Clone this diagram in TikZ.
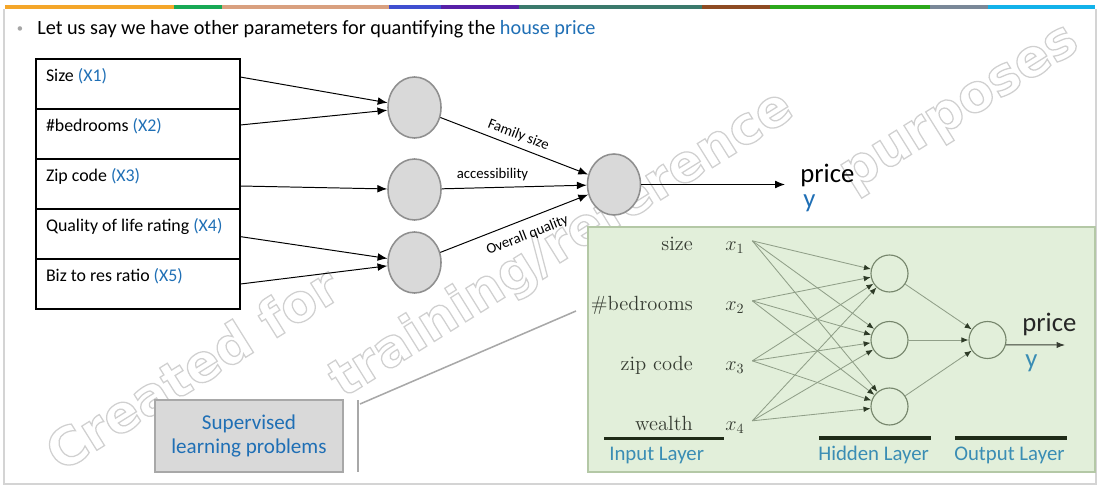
\documentclass[tikz,border=0pt]{standalone}
\usepackage{fontspec}
\setsansfont{Carlito}
\renewcommand{\familydefault}{\sfdefault}
\newfontfamily\wmfont{DejaVu Sans}
\usepackage{tikz}
\usetikzlibrary{arrows.meta,positioning,calc,shapes.geometric}

\definecolor{officeblue}{HTML}{1F6FB5}
\definecolor{layerblue}{HTML}{3A8DB4}
\definecolor{unitfill}{HTML}{D9D9D9}
\definecolor{unitedge}{HTML}{8F8F8F}
\definecolor{panelbg}{HTML}{E2EFDA}
\definecolor{paneledge}{HTML}{B4C8A6}
\definecolor{netline}{HTML}{76866C}
\definecolor{netwire}{HTML}{909F88}
\definecolor{netdark}{HTML}{2D3A26}
\definecolor{ruledark}{HTML}{1F2B17}
\definecolor{callgray}{HTML}{A8A8A8}
\definecolor{framegray}{HTML}{D4D4D4}
\definecolor{textdark}{HTML}{363C32}
\definecolor{wmgray}{HTML}{D0D0D0}
\definecolor{barA}{HTML}{F4A62A}
\definecolor{barB}{HTML}{18A955}
\definecolor{barC}{HTML}{D9A07F}
\definecolor{barD}{HTML}{3F4FD0}
\definecolor{barE}{HTML}{5720A8}
\definecolor{barF}{HTML}{3B7A6C}
\definecolor{barG}{HTML}{8E4B22}
\definecolor{barH}{HTML}{2CA81C}
\definecolor{barI}{HTML}{7A8898}
\definecolor{barJ}{HTML}{12B2EA}

\tikzstyle{row} = [draw=black,line width=0.9pt,outer sep=0pt,inner xsep=0.25cm,inner ysep=0.17cm,
  text width=4.6cm,align=flush left,text height=0.4cm,text depth=0.51cm,font=\fontsize{12.7}{15}\selectfont]
\tikzstyle{unit} = [ellipse,draw=unitedge,fill=unitfill,line width=1.1pt,inner sep=0pt,
  minimum width=1.325cm,minimum height=1.525cm]
\tikzstyle{link} = [draw=black,line width=0.7pt,-{Latex[length=7pt,width=5.5pt]}]
\tikzstyle{edgelbl} = [font=\fontsize{10.5}{12}\selectfont,inner sep=2pt]
\tikzstyle{neuron} = [circle,draw=netline,line width=0.8pt,inner sep=0pt,minimum size=0.925cm]
\tikzstyle{wire} = [draw=netwire,line width=0.6pt,-{Latex[length=5pt,width=4pt,color=netdark]}]
\tikzstyle{feat} = [anchor=base east,inner sep=0pt,text=textdark,font=\rmfamily\fontsize{14.6}{17}\selectfont]
\tikzstyle{inp} = [anchor=base west,inner sep=0pt,text=textdark,font=\fontsize{14}{16}\selectfont]
\tikzstyle{rulebar} = [draw=ruledark,line width=2.8pt]
\tikzstyle{layername} = [anchor=base west,inner sep=0pt,text=layerblue,font=\fontsize{14.8}{17}\selectfont]
\tikzstyle{bigword} = [anchor=base west,inner sep=0pt,font=\fontsize{19}{21}\selectfont]
\tikzstyle{supbox} = [draw=callgray,fill=unitfill,line width=1.1pt,minimum width=4.7cm,minimum height=1.8cm,
  align=center,text=officeblue,font=\fontsize{15}{17.7}\selectfont]
\tikzstyle{wmark} = [text=wmgray,rotate=32,inner sep=0pt,font=\wmfont\bfseries\fontsize{37}{37}\selectfont]
\newcommand{\xid}[1]{\textcolor{officeblue}{#1}}
\newcommand{\hollow}[1]{\special{pdf:literal direct 1 Tr 0.9 w}#1\special{pdf:literal direct 0 Tr}}

\begin{document}
\begin{tikzpicture}[x=0.025cm,y=-0.025cm]
    \useasboundingbox (0,0) rectangle (1100,486);

    \node (wm1) [wmark] at (192,368) {\hollow{Created for}};
    \node (wm2) [wmark] at (562,245) {\hollow{training/reference}};
    \node (wm3) [wmark] at (962,112) {\hollow{purposes}};

    \foreach \a/\b/\c in {5/174/barA,174/222/barB,222/389/barC,389/441/barD,441/519/barE,
      519/702/barF,702/770/barG,770/930/barH,930/988/barI,988/1095/barJ}
      \fill [\c] (\a,5) rectangle (\b,9.5);
    \draw [framegray,line width=1.2pt] (4,9.5) -- (4,484) -- (1096,484) -- (1096,9.5);

    \node [gray!70,inner sep=0pt,font=\small] at (20,30) {\textbullet};
    \node (intro) [anchor=base west,inner sep=0pt,font=\fontsize{14.4}{17}\selectfont] at (37,35)
      {Let us say we have other parameters for quantifying the \xid{house price}};

    \node (r1) [row,anchor=north west] at (36,59) {Size \xid{(X1)}};
    \node (r2) [row,below=0pt of r1] {\#bedrooms \xid{(X2)}};
    \node (r3) [row,below=0pt of r2] {Zip code \xid{(X3)}};
    \node (r4) [row,below=0pt of r3] {Quality of life rating \xid{(X4)}};
    \node (r5) [row,below=0pt of r4] {Biz to res ratio \xid{(X5)}};

    \node (h1) [unit] at (414.5,107.5) {};
    \node (h2) [unit] at (414.5,189.5) {};
    \node (h3) [unit] at (414.5,262.5) {};
    \node (out) [unit] at (614,184.5) {};

    \draw [link] ([yshift=5pt]r1.east) -- (h1);
    \draw [link] ([yshift=6.4pt]r2.east) -- (h1);
    \draw [link] ([yshift=-1.4pt]r3.east) -- (h2);
    \draw [link] ([yshift=-1.8pt]r4.east) -- (h3);
    \draw [link] (r5.east) -- (h3);
    \draw [link] (h1) -- node [edgelbl,above=1.5pt,sloped] {Family size} (out);
    \draw [link] (h2) -- node [edgelbl,above=2.5pt,pos=0.35] {accessibility} (out);
    \draw [link] (h3) -- node [edgelbl,below=4.5pt,sloped,pos=0.55] {Overall quality} (out);

    \coordinate (ptop) at (785,184.5);
    \draw [link] (out) -- (ptop);
    \node (price1) [bigword] at (800,183) {price};
    \node (y1) [bigword,text=officeblue] at (803,207) {y};

    \node (sup) [supbox] at (249,436) {Supervised\\learning problems};
    \draw [callgray,line width=1.5pt] (358,400) -- (358,472);
    \draw [callgray,line width=1.1pt] (360,404) -- (576,311);

    \draw [paneledge,fill=panelbg,line width=1.3pt] (588,227) rectangle (1095,472);

    \foreach \n/\y/\t in {1/250/size,2/310/\#bedrooms,3/370/zip code,4/430/wealth} {
      \node (f\n) [feat] at (693,\y) {\t};
      \node (x\n) [inp] at (725,\y) {$x_\n$};
    }
    \foreach \j/\y in {1/273.5,2/340,3/406.5}
      \node (n\j) [neuron] at (889.5,\y) {};
    \node (o) [neuron] at (987.5,340) {};

    \foreach \i in {1,...,4}
      \foreach \j in {1,2,3}
        \draw [wire] ([shift={(5.5pt,4.5pt)}]x\i.east) -- (n\j);
    \foreach \j in {1,2,3}
      \draw [wire] (n\j) -- (o);
    \coordinate (pend) at (1065,345);
    \draw [textdark,line width=0.7pt,-{Latex[length=6pt,width=4.5pt]}] (o.-15) -- (pend);
    \node (price2) [bigword,text=black!85] at (1022,331) {price};
    \node (y2) [bigword,text=layerblue] at (1025,367) {y};

    \draw [rulebar] (604,438.5) -- (724,438.5);
    \draw [rulebar] (819,438) -- (931,438);
    \draw [rulebar] (955,438) -- (1067,438);
    \node (lin) [layername] at (609,460) {Input Layer};
    \node (lhid) [layername] at (818,460) {Hidden Layer};
    \node (lout) [layername] at (954,460) {Output Layer};
\end{tikzpicture}
\end{document}
